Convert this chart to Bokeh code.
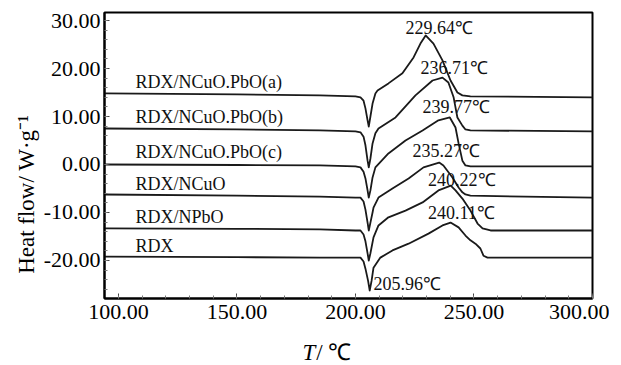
import math
from bokeh.plotting import figure
from bokeh.layouts import column, row
from bokeh.models import Range1d, NumeralTickFormatter, FixedTicker
from bokeh.embed import file_html
from bokeh.resources import INLINE
from bokeh.core.properties import value

# ---------------- data ----------------
series_names = ["RDX/NCuO.PbO(a)", "RDX/NCuO.PbO(b)", "RDX/NCuO.PbO(c)",
                "RDX/NCuO", "RDX/NPbO", "RDX"]
peak_texts = ["229.64℃", "236.71℃", "239.77℃", "235.27℃", "240.22℃", "240.11℃"]
dip_text = "205.96℃"

t_a = [94.1, 150, 185, 200, 202.1, 203.4, 204.2, 205.1, 205.6, 206.3, 207.2, 208.4, 209.3,
       213.9, 219.8, 224.5, 227.4, 229.6, 232.9, 236.7, 240.1, 243.0, 245.1, 248.5, 300]
hf_a = [14.8, 14.6, 14.4, 14.2, 14.0, 13.3, 11.7, 9.2, 7.9, 10.0, 12.7, 14.8, 15.4,
        16.9, 19.0, 22.3, 25.2, 26.9, 25.2, 21.7, 17.5, 15.0, 14.4, 14.2, 14.0]

t_b = [94.1, 150, 185, 200, 202.1, 203.4, 204.2, 205.1, 205.6, 206.3, 207.2, 208.4, 209.7,
       216.9, 225.3, 232.5, 236.7, 239.2, 241.4, 243.0, 245.1, 246.4, 248.5, 300]
hf_b = [7.5, 7.3, 7.1, 6.9, 6.7, 5.8, 4.0, 0.8, -0.6, 1.25, 4.4, 6.5, 7.5,
        9.8, 14.4, 17.5, 18.1, 17.1, 14.0, 9.8, 8.1, 7.3, 7.1, 6.9]

t_c = [94.1, 150, 185, 200, 202.1, 203.4, 204.2, 205.1, 205.6, 206.3, 207.2, 208.4,
       213.9, 221.1, 228.3, 235.0, 239.8, 242.2, 243.5, 245.1, 246.4, 248.5, 300]
hf_c = [0.0, -0.1, -0.2, -0.4, -0.6, -1.5, -2.9, -5.4, -6.9, -5.4, -2.7, -0.6,
        2.3, 5.0, 7.1, 9.2, 9.8, 7.7, 4.4, 0.8, -0.2, -0.4, -0.4]

t_d = [94.1, 150, 185, 200, 202.1, 203.4, 204.2, 205.1, 205.6, 206.3, 207.2, 207.6, 209.7,
       215.6, 222.4, 228.7, 235.3, 237.1, 240.9, 243.5, 245.1, 246.4, 248.5, 300]
hf_d = [-6.25, -6.5, -6.7, -6.9, -6.9, -7.7, -9.4, -12.1, -13.75, -12.1, -10.0, -9.0, -6.9,
        -5.0, -2.9, -0.6, 0.4, -0.2, -2.7, -4.8, -5.8, -6.25, -6.5, -6.9]

t_e = [94.1, 150, 185, 200, 202.1, 203.4, 204.2, 205.1, 205.6, 206.3, 207.6, 209.7,
       213.9, 221.1, 228.3, 235.0, 240.2, 242.2, 245.1, 248.5, 251.5, 253.6, 257.0, 300]
hf_e = [-13.3, -13.4, -13.5, -13.75, -13.75, -14.6, -16.0, -18.5, -20.0, -18.5, -15.2, -12.7,
        -11.0, -9.6, -7.9, -5.4, -4.4, -5.4, -7.1, -9.6, -12.3, -13.3, -13.75, -13.75]

t_f = [94.1, 150, 185, 200, 202.1, 203.4, 204.2, 205.3, 206.0, 206.8, 207.6, 210.5,
       215.6, 222.4, 230.8, 236.7, 240.1, 243.5, 246.4, 248.5, 250.6, 252.7, 254.0, 255.7, 300]
hf_f = [-19.2, -19.3, -19.4, -19.4, -19.4, -20.2, -21.7, -24.2, -26.25, -24.2, -21.5, -19.4,
        -17.9, -16.5, -14.4, -12.7, -12.1, -13.1, -14.8, -15.8, -16.5, -17.5, -19.0, -19.4, -19.4]

x_ticks = [100, 150, 200, 250, 300]
y_ticks = [-20, -10, 0, 10, 20, 30]
x_title_italic, x_title_rest = "T", "/ ℃"
y_title = "Heat flow/ W·g⁻¹"

# ---------------- layout of texts (positions, not data) ----------------
name_x = [107.2] * 6
name_y = [17.1, 10.0, 2.7, -4.0, -11.0, -16.9]
peak_x = [221.1, 227.4, 228.3, 224.1, 230.6, 230.6]
peak_y = [28.5, 20.2, 11.9, 2.9, -3.3, -10.2]
dip_x, dip_y = 207.6, -24.8
x_title_split = 183.0   # in data units of T
y_title_mid = -6.2      # in data units of heat flow

FONT = "Liberation Serif"
FRAME_W, FRAME_H = 488, 286
YLAB_W = 40
B_LEFT, B_RIGHT, B_TOP, B_BOTTOM = 104 - YLAB_W, 17, 12, 32
XLAB_H = 35

p = figure(frame_width=FRAME_W, frame_height=FRAME_H, output_backend="svg", toolbar_location=None,
           x_range=Range1d(94.1, 300), y_range=Range1d(-27.92, 31.67),
           min_border_left=B_LEFT, min_border_right=B_RIGHT, min_border_top=B_TOP,
           min_border_bottom=B_BOTTOM,
           background_fill_color="white", border_fill_color="white")
p.grid.visible = False
p.outline_line_color = "black"
p.outline_line_width = 2

for t, hf in [(t_a, hf_a), (t_b, hf_b), (t_c, hf_c), (t_d, hf_d), (t_e, hf_e), (t_f, hf_f)]:
    p.line(t, hf, line_color="#1a1a1a", line_width=1.8, line_join="round")

p.text(x=name_x, y=name_y, text=series_names, text_font=value(FONT), text_font_size="18px",
       text_align="left", text_baseline="middle", text_color="#111111")
p.text(x=peak_x, y=peak_y, text=peak_texts, text_font=value(FONT), text_font_size="18px",
       text_align="left", text_baseline="middle", text_color="#111111")
p.text(x=[dip_x], y=[dip_y], text=[dip_text], text_font=value(FONT), text_font_size="18px",
       text_align="left", text_baseline="middle", text_color="#111111")

for ax in (p.xaxis[0], p.yaxis[0]):
    ax.axis_line_color = "black"
    ax.axis_line_width = 2
    ax.major_tick_in = 5
    ax.major_tick_out = 0
    ax.minor_tick_in = 3
    ax.minor_tick_out = 0
    ax.major_tick_line_color = "#444444"
    ax.minor_tick_line_color = "#777777"
    ax.major_label_text_font = FONT
    ax.major_label_text_font_size = "22px"
    ax.major_label_text_color = "black"
    ax.formatter = NumeralTickFormatter(format="0.00")

p.xaxis[0].ticker = FixedTicker(ticks=x_ticks, minor_ticks=list(range(100, 301, 10)))
p.yaxis[0].ticker = FixedTicker(ticks=y_ticks, minor_ticks=list(range(-26, 31, 2)))
p.xaxis[0].major_label_standoff = 6
p.yaxis[0].major_label_standoff = 4

# y-axis title column
r = figure(frame_width=YLAB_W, frame_height=FRAME_H, output_backend="svg", toolbar_location=None,
           x_range=Range1d(0, YLAB_W), y_range=p.y_range,
           x_axis_type=None, y_axis_type=None,
           min_border_left=0, min_border_right=0, min_border_top=B_TOP, min_border_bottom=B_BOTTOM,
           background_fill_color="white", border_fill_color="white")
r.grid.visible = False
r.outline_line_color = None
r.text(x=[26], y=[y_title_mid], text=[y_title], angle=math.pi / 2,
       text_font=value(FONT), text_font_size="23px", text_align="center",
       text_baseline="middle", text_color="black")

# x-axis title row ("T" italic + "/ ℃")
q = figure(frame_width=FRAME_W, frame_height=XLAB_H, output_backend="svg", toolbar_location=None,
           x_range=p.x_range, y_range=Range1d(0, XLAB_H),
           x_axis_type=None, y_axis_type=None,
           min_border_left=B_LEFT, min_border_right=B_RIGHT, min_border_top=0, min_border_bottom=0,
           background_fill_color="white", border_fill_color="white")
q.grid.visible = False
q.outline_line_color = None
q.text(x=[x_title_split], y=[13], text=[x_title_italic], text_font=value(FONT),
       text_font_size="23px", text_font_style="italic", text_align="right",
       text_baseline="middle", text_color="black")
q.text(x=[x_title_split + 0.4], y=[13], text=[x_title_rest], text_font=value(FONT),
       text_font_size="23px", text_align="left", text_baseline="middle", text_color="black")

layout = row(r, column(p, q, spacing=0), spacing=0)
open("out.html", "w").write(file_html(layout, INLINE))
